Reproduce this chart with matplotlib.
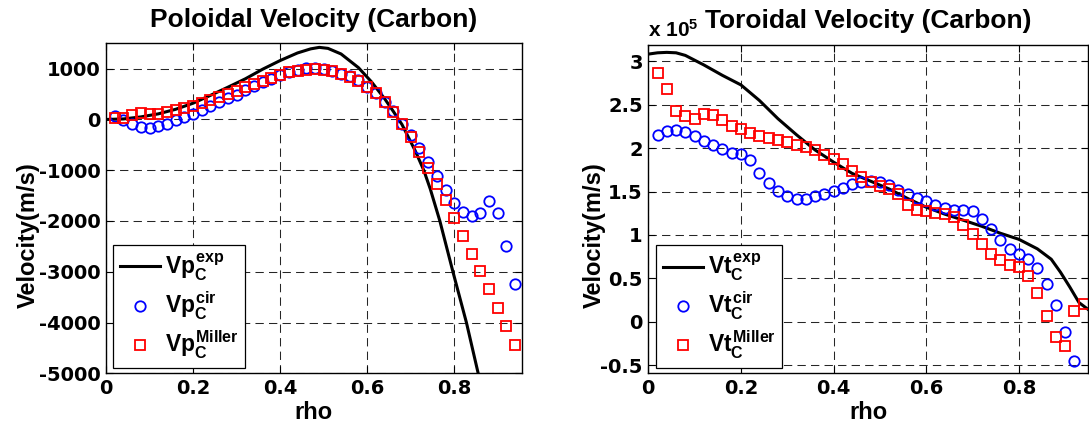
import numpy as np
import matplotlib
matplotlib.use('Agg')
import matplotlib.pyplot as plt
from matplotlib.ticker import FuncFormatter

plt.rcParams['font.family'] = ['Liberation Sans', 'DejaVu Sans']
plt.rcParams['font.weight'] = 'bold'
plt.rcParams['axes.labelweight'] = 'bold'
plt.rcParams['mathtext.fontset'] = 'custom'
plt.rcParams['mathtext.rm'] = 'Liberation Sans:bold'
plt.rcParams['mathtext.it'] = 'Liberation Sans:bold'
plt.rcParams['mathtext.bf'] = 'Liberation Sans:bold'
plt.rcParams['axes.unicode_minus'] = False

FNT = 14
LW = 2.2

# rho grid of the model points (circles / squares)
rho_pts = [0.02, 0.04, 0.06, 0.08, 0.10, 0.12, 0.14, 0.16, 0.18, 0.20,
           0.22, 0.24, 0.26, 0.28, 0.30, 0.32, 0.34, 0.36, 0.38, 0.40,
           0.42, 0.44, 0.46, 0.48, 0.50, 0.52, 0.54, 0.56, 0.58, 0.60,
           0.62, 0.64, 0.66, 0.68, 0.70, 0.72, 0.74, 0.76, 0.78, 0.80,
           0.82, 0.84, 0.86, 0.88, 0.90, 0.92, 0.94]

# poloidal velocity, m/s
vp_exp_rho = [0, 0.04, 0.08, 0.12, 0.16, 0.20, 0.24, 0.28, 0.32, 0.36, 0.40, 0.44,
              0.47, 0.49, 0.51, 0.54, 0.58, 0.61, 0.64, 0.66, 0.68, 0.71, 0.73,
              0.745, 0.767, 0.797, 0.828, 0.855, 0.862]
vp_exp = [0, 10, 50, 110, 200, 320, 475, 635, 800, 990, 1160, 1310,
          1390, 1420, 1400, 1290, 1020, 740, 410, 160, -100, -610, -1000,
          -1370, -2000, -3000, -4000, -5000, -5250]
vp_cir = [70, -10, -90, -145, -160, -130, -80, -15, 50, 115,
          195, 265, 345, 415, 490, 575, 655, 730, 805, 870,
          935, 980, 1010, 1020, 990, 955, 905, 855, 775, 645,
          515, 350, 170, -80, -300, -560, -835, -1110, -1395, -1645,
          -1820, -1905, -1840, -1610, -1840, -2485, -3250]
vp_mil = [20, 30, 95, 125, 100, 110, 140, 185, 220, 265,
          330, 380, 435, 500, 565, 630, 700, 765, 825, 875,
          925, 960, 975, 985, 975, 955, 905, 845, 765, 645,
          515, 350, 150, -90, -355, -640, -947, -1262, -1585, -1950,
          -2290, -2643, -2988, -3347, -3708, -4075, -4448]

# toroidal velocity, units of 1e5 m/s
vt_exp_rho = [0, 0.02, 0.04, 0.06, 0.08, 0.12, 0.16, 0.20, 0.24, 0.28, 0.32, 0.36,
              0.40, 0.44, 0.48, 0.52, 0.56, 0.60, 0.64, 0.68, 0.72, 0.76, 0.80,
              0.84, 0.87, 0.89, 0.91, 0.93, 0.95]
vt_exp = [3.085, 3.10, 3.105, 3.10, 3.07, 2.96, 2.84, 2.73, 2.55, 2.34, 2.155, 1.98,
          1.84, 1.71, 1.62, 1.53, 1.42, 1.32, 1.24, 1.17, 1.10, 1.02, 0.95,
          0.84, 0.72, 0.57, 0.40, 0.22, 0.14]
vt_cir = [2.155, 2.195, 2.205, 2.185, 2.145, 2.085, 2.04, 1.995, 1.95, 1.93,
          1.865, 1.72, 1.595, 1.505, 1.445, 1.42, 1.42, 1.445, 1.475, 1.505,
          1.545, 1.585, 1.61, 1.62, 1.61, 1.58, 1.52, 1.47, 1.43, 1.39,
          1.34, 1.31, 1.29, 1.285, 1.28, 1.18, 1.065, 0.94, 0.835, 0.78,
          0.72, 0.615, 0.435, 0.195, -0.12, -0.45]
vt_mil = [2.87, 2.68, 2.43, 2.37, 2.34, 2.40, 2.38, 2.32, 2.26, 2.22,
          2.18, 2.14, 2.12, 2.10, 2.07, 2.04, 2.01, 1.98, 1.92, 1.87,
          1.82, 1.74, 1.665, 1.605, 1.56, 1.53, 1.475, 1.34, 1.284, 1.276,
          1.253, 1.245, 1.207, 1.12, 1.015, 0.90, 0.785, 0.71, 0.65, 0.625,
          0.525, 0.326, 0.065, -0.18, -0.28, 0.123, 0.203]


def style_ax(ax):
    ax.tick_params(direction='in', length=5, width=0.8, top=True, right=True,
                   labelsize=FNT, pad=4)
    ax.grid(True, color='0.15', linestyle=(0, (8, 5)), linewidth=0.75)
    for s in ax.spines.values():
        s.set_linewidth(1.0)
    ax.set_xticks([0, 0.2, 0.4, 0.6, 0.8])
    ax.set_xticklabels(['0', '0.2', '0.4', '0.6', '0.8'])
    # matlab tick labels come out wide, DejaVu bold is closest
    for t in ax.get_xticklabels() + ax.get_yticklabels():
        t.set_family('DejaVu Sans')
        t.set_weight('bold')


def add_legend(ax, labels, x0):
    leg = ax.legend(labels, loc='lower left', bbox_to_anchor=(x0, 0.016),
                    borderaxespad=0, fontsize=16.5, fancybox=False, edgecolor='k',
                    framealpha=1, handlelength=1.75, handletextpad=0.2,
                    labelspacing=0.3, borderpad=0.3)
    leg.get_frame().set_linewidth(0.9)


fig = plt.figure(figsize=(10.89, 4.29), dpi=100)
ax1 = fig.add_axes([106/1089, 55.7/429, 415.7/1089, 330/429])
ax2 = fig.add_axes([648.3/1089, 55.7/429, 440/1089, 328.3/429])

# --- poloidal
ax1.plot(vp_exp_rho, vp_exp, 'k-', linewidth=LW)
ax1.plot(rho_pts, vp_cir, 'o', mfc='none', mec='b', ms=7.5, mew=1.3)
ax1.plot(rho_pts, vp_mil, 's', mfc='none', mec='r', ms=6.5, mew=1.3)
ax1.set_xlim(0, 0.955)
ax1.set_ylim(-5000, 1500)
ax1.set_yticks(np.arange(-5000, 1001, 1000))
style_ax(ax1)
ax1.set_title('Poloidal Velocity (Carbon)', fontsize=19, fontweight='bold', pad=12)
ax1.set_xlabel('rho', fontsize=17)
ax1.set_ylabel('Velocity(m/s)', fontsize=17)
ax1.xaxis.set_label_coords(0.5, -0.085)
ax1.yaxis.set_label_coords(-0.16, 0.42)
add_legend(ax1, [r'$Vp_{C}^{exp}$', r'$Vp_{C}^{cir}$', r'$Vp_{C}^{Miller}$'], 0.0168)

# --- toroidal
ax2.plot(vt_exp_rho, np.array(vt_exp)*1e5, 'k-', linewidth=LW)
ax2.plot(rho_pts[:len(vt_cir)], np.array(vt_cir)*1e5, 'o', mfc='none', mec='b', ms=7.5, mew=1.3)
ax2.plot(rho_pts, np.array(vt_mil)*1e5, 's', mfc='none', mec='r', ms=6.5, mew=1.3)
ax2.set_xlim(0, 0.95)
ax2.set_ylim(-0.595e5, 3.19e5)
ax2.set_yticks(np.arange(-0.5, 3.01, 0.5)*1e5)
ax2.yaxis.set_major_formatter(FuncFormatter(lambda v, p: '%g' % round(v/1e5, 2)))
style_ax(ax2)
ax2.set_title('Toroidal Velocity (Carbon)', fontsize=19, fontweight='bold', pad=12)
ax2.text(0, 1.024, r'x 10$^{5}$', transform=ax2.transAxes, fontsize=15,
         ha='left', va='baseline')
ax2.set_xlabel('rho', fontsize=17)
ax2.set_ylabel('Velocity(m/s)', fontsize=17)
ax2.xaxis.set_label_coords(0.5, -0.085)
ax2.yaxis.set_label_coords(-0.097, 0.42)
add_legend(ax2, [r'$Vt_{C}^{exp}$', r'$Vt_{C}^{cir}$', r'$Vt_{C}^{Miller}$'], 0.0175)

fig.savefig('out.png', dpi=100)
